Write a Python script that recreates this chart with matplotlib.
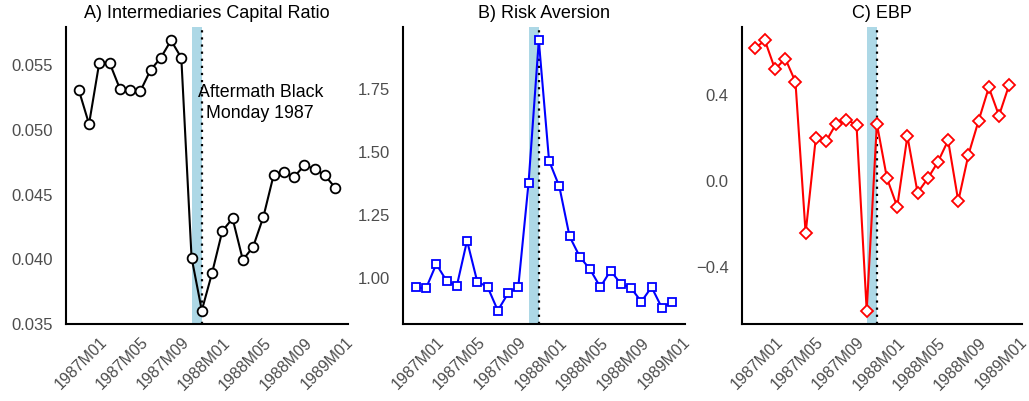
import matplotlib
matplotlib.use("Agg")
import matplotlib.pyplot as plt
import numpy as np
import pandas as pd

plt.rcParams["font.family"] = ["Liberation Sans", "DejaVu Sans"]

# monthly observations, 1986M11 .. 1988M12
months = [f"{p.year}M{p.month:02d}" for p in pd.period_range("1986-11", "1988-12", freq="M")]

capital_ratio = [0.05302, 0.05038, 0.05513, 0.05513, 0.05313, 0.05300, 0.05292, 0.05456,
                 0.05551, 0.05685, 0.05551, 0.04005, 0.03595, 0.03885, 0.04210, 0.04308,
                 0.03987, 0.04087, 0.04318, 0.04641, 0.04667, 0.04628, 0.04718, 0.04692,
                 0.04641, 0.04546]
risk_aversion = [0.958, 0.954, 1.050, 0.984, 0.963, 1.143, 0.980, 0.960, 0.866, 0.934,
                 0.960, 1.372, 1.937, 1.460, 1.358, 1.160, 1.079, 1.029, 0.959, 1.024,
                 0.972, 0.955, 0.901, 0.959, 0.877, 0.901]
ebp = [0.612, 0.649, 0.515, 0.565, 0.457, -0.246, 0.196, 0.180, 0.262, 0.281, 0.257,
       -0.605, 0.262, 0.008, -0.123, 0.205, -0.058, 0.008, 0.085, 0.185, -0.097, 0.119,
       0.277, 0.431, 0.300, 0.443]

tick_labels = ["1987M01", "1987M05", "1987M09", "1988M01", "1988M05", "1988M09", "1989M01"]
shade_start, shade_end = "1987M10", "1987M11"
event_month = "1987M11"

titles = ["A) Intermediaries Capital Ratio", "B) Risk Aversion", "C) EBP"]
series = [capital_ratio, risk_aversion, ebp]
colors = ["black", "#0000FF", "#FF0000"]
markers = ["o", "s", "D"]
msizes = [7, 5.5, 6]
yticks = [[0.035, 0.040, 0.045, 0.050, 0.055], [1.00, 1.25, 1.50, 1.75], [-0.4, 0.0, 0.4]]
yfmt = ["{:.3f}", "{:.2f}", "{:.1f}"]

axis_months = [f"{p.year}M{p.month:02d}" for p in pd.period_range("1986-11", "1989-01", freq="M")]
pos = {m: i for i, m in enumerate(axis_months)}
x = np.arange(len(months))

fig = plt.figure(figsize=(10.29, 4.02), dpi=100)
lefts = [0.0641, 0.3916, 0.7211]
widths = [0.274, 0.274, 0.272]

for k in range(3):
    ax = fig.add_axes([lefts[k], 0.1915, widths[k], 0.739])
    ax.axvspan(pos[shade_start], pos[shade_end], color="#ADD8E6", lw=0, zorder=1)
    ax.axvline(pos[event_month], color="black", ls=(0, (1, 2.2)), lw=1.6, zorder=2)
    ax.plot(x, series[k], color=colors[k], lw=1.5, marker=markers[k], ms=msizes[k],
            mfc="white", mec=colors[k], mew=1.3, zorder=3)
    ax.set_xlim(-1.25, 26.25)
    ax.set_xticks([pos[t] for t in tick_labels])
    ax.set_xticklabels(tick_labels, rotation=45, ha="right", va="top",
                       rotation_mode="anchor", color="#4D4D4D", fontsize=11.5)
    ax.set_yticks(yticks[k])
    ax.set_yticklabels([yfmt[k].format(v).replace("-", "\u2212") for v in yticks[k]],
                       color="#4D4D4D", fontsize=12)
    ax.tick_params(length=0)
    ax.tick_params(axis="y", pad=9.5)
    ax.tick_params(axis="x", pad=7)
    for s in ["top", "right"]:
        ax.spines[s].set_visible(False)
    for s in ["left", "bottom"]:
        ax.spines[s].set_linewidth(1.5)
    ax.set_title(titles[k], fontsize=13, pad=7)
    if k == 0:
        ax.text(17.7, 0.05208, "Aftermath Black\nMonday 1987", ha="center", va="center",
                fontsize=12.8, linespacing=1.3)

fig.savefig("out.png", dpi=100)
